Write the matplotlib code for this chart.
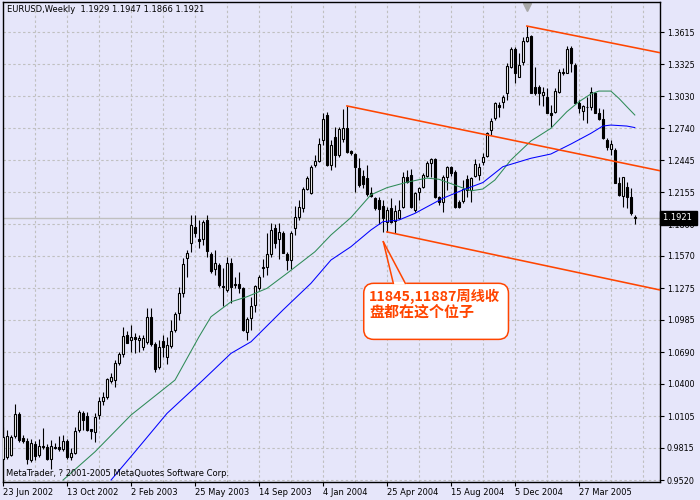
import numpy as np
import matplotlib.pyplot as plt
import matplotlib.transforms as mtransforms
from matplotlib.patches import FancyBboxPatch

# EURUSD weekly bars (bar 0 = week of 23 Jun 2002)
opens = [
    0.9717, 0.9732, 0.9747, 0.9921, 1.0124, 0.9901, 0.9879, 0.9701, 0.9849, 0.9747,
    0.9827, 0.9824, 0.9708, 0.9824, 0.9818, 0.9800, 0.9879, 0.9732, 0.9769, 0.9977,
    1.0130, 1.0106, 0.9983, 0.9961, 1.0114, 1.0245, 1.0276, 1.0428, 1.0435, 1.0587,
    1.0672, 1.0846, 1.0800, 1.0831, 1.0800, 1.0733, 1.0784, 1.1008, 1.0764, 1.0555,
    1.0795, 1.0648, 1.0745, 1.0892, 1.1050, 1.1233, 1.1548, 1.1685, 1.1832, 1.1722,
    1.1721, 1.1895, 1.1588, 1.1447, 1.1491, 1.1295, 1.1257, 1.1503, 1.1314, 1.1314,
    1.1275, 1.0877, 1.0999, 1.1121, 1.1274, 1.1457, 1.1471, 1.1587, 1.1823, 1.1721,
    1.1784, 1.1588, 1.1532, 1.1823, 1.1929, 1.2005, 1.2179, 1.2149, 1.2400, 1.2442,
    1.2630, 1.2860, 1.2403, 1.2662, 1.2494, 1.2638, 1.2738, 1.2531, 1.2503, 1.2372,
    1.2302, 1.2281, 1.2143, 1.2098, 1.2082, 1.2028, 1.1884, 1.2006, 1.1893, 1.1915,
    1.2015, 1.2290, 1.2311, 1.1991, 1.2159, 1.2198, 1.2302, 1.2418, 1.2455, 1.2107,
    1.2067, 1.2290, 1.2381, 1.2342, 1.2067, 1.2076, 1.2272, 1.2174, 1.2302, 1.2311,
    1.2433, 1.2485, 1.2723, 1.2829, 1.2951, 1.2982, 1.3058, 1.3296, 1.3461, 1.3211,
    1.3348, 1.3540, 1.3583, 1.3119, 1.3119, 1.3043, 1.3028, 1.2875, 1.2890, 1.3073,
    1.3256, 1.3247, 1.3470, 1.3317, 1.2967, 1.2899, 1.2936, 1.2930, 1.3064, 1.2875,
    1.2820, 1.2631, 1.2552, 1.2540, 1.2241, 1.2119, 1.2204, 1.2106, 1.1929,
]
highs = [
    1.0008, 0.9978, 0.9932, 1.0216, 1.0143, 0.9932, 0.9901, 0.9892, 0.9879, 0.9892,
    0.9999, 0.9849, 0.9885, 0.9855, 0.9922, 0.9932, 0.9892, 0.9809, 1.0008, 1.0161,
    1.0155, 1.0143, 0.9989, 1.0130, 1.0277, 1.0328, 1.0451, 1.0496, 1.0619, 1.0695,
    1.0924, 1.0886, 1.0939, 1.0868, 1.0846, 1.0846, 1.1091, 1.1091, 1.0786, 1.0801,
    1.0847, 1.0832, 1.0985, 1.1061, 1.1290, 1.1549, 1.1625, 1.1946, 1.1946, 1.1901,
    1.1900, 1.1947, 1.1610, 1.1625, 1.1503, 1.1458, 1.1565, 1.1549, 1.1381, 1.1427,
    1.1284, 1.1016, 1.1199, 1.1305, 1.1397, 1.1540, 1.1779, 1.1870, 1.1863, 1.1869,
    1.1802, 1.1610, 1.1802, 1.2023, 1.2083, 1.2199, 1.2302, 1.2404, 1.2495, 1.2648,
    1.2882, 1.2891, 1.2631, 1.2753, 1.2753, 1.2912, 1.2943, 1.2540, 1.2509, 1.2464,
    1.2357, 1.2403, 1.2204, 1.2113, 1.2107, 1.2082, 1.2021, 1.2098, 1.2037, 1.2082,
    1.2342, 1.2357, 1.2363, 1.2159, 1.2204, 1.2326, 1.2442, 1.2464, 1.2464, 1.2119,
    1.2311, 1.2394, 1.2394, 1.2357, 1.2082, 1.2265, 1.2311, 1.2290, 1.2455, 1.2424,
    1.2516, 1.2707, 1.2829, 1.2982, 1.2982, 1.3043, 1.3339, 1.3479, 1.3485, 1.3424,
    1.3577, 1.3674, 1.3592, 1.3302, 1.3134, 1.3119, 1.3104, 1.2951, 1.3104, 1.3278,
    1.3287, 1.3491, 1.3491, 1.3333, 1.2997, 1.2951, 1.3028, 1.3119, 1.3073, 1.2921,
    1.2912, 1.2646, 1.2631, 1.2555, 1.2296, 1.2296, 1.2250, 1.2189, 1.1947,
]
lows = [
    0.9701, 0.9717, 0.9738, 0.9909, 0.9869, 0.9861, 0.9671, 0.9686, 0.9701, 0.9732,
    0.9800, 0.9701, 0.9625, 0.9800, 0.9787, 0.9787, 0.9708, 0.9701, 0.9757, 0.9961,
    0.9977, 0.9967, 0.9891, 0.9869, 1.0083, 1.0205, 1.0257, 1.0410, 1.0373, 1.0572,
    1.0648, 1.0770, 1.0693, 1.0684, 1.0693, 1.0714, 1.0769, 1.0750, 1.0509, 1.0540,
    1.0648, 1.0586, 1.0724, 1.0876, 1.0983, 1.1196, 1.1379, 1.1608, 1.1746, 1.1640,
    1.1669, 1.1563, 1.1410, 1.1395, 1.1282, 1.1111, 1.1242, 1.1141, 1.1274, 1.1228,
    1.0884, 1.0800, 1.0892, 1.1060, 1.1258, 1.1380, 1.1395, 1.1563, 1.1639, 1.1546,
    1.1593, 1.1441, 1.1455, 1.1761, 1.1899, 1.1975, 1.2173, 1.2136, 1.2387, 1.2432,
    1.2584, 1.2394, 1.2357, 1.2387, 1.2479, 1.2616, 1.2509, 1.2494, 1.2159, 1.2204,
    1.2189, 1.2119, 1.2113, 1.1991, 1.1863, 1.1793, 1.1793, 1.1869, 1.1777, 1.1906,
    1.2006, 1.2235, 1.2006, 1.1976, 1.2082, 1.2189, 1.2290, 1.2290, 1.2098, 1.2037,
    1.1976, 1.2174, 1.2302, 1.2006, 1.2006, 1.2052, 1.2113, 1.2067, 1.2290, 1.2265,
    1.2403, 1.2479, 1.2677, 1.2814, 1.2845, 1.2921, 1.2997, 1.3287, 1.3149, 1.3204,
    1.3317, 1.3531, 1.3058, 1.3043, 1.2951, 1.2942, 1.2875, 1.2753, 1.2881, 1.3058,
    1.3226, 1.3241, 1.3256, 1.2967, 1.2875, 1.2814, 1.2784, 1.2906, 1.2875, 1.2814,
    1.2637, 1.2540, 1.2494, 1.2235, 1.2119, 1.2021, 1.2006, 1.1945, 1.1866,
]
closes = [
    0.9916, 0.9922, 0.9910, 1.0124, 0.9884, 0.9879, 0.9717, 0.9861, 0.9738, 0.9830,
    0.9818, 0.9717, 0.9830, 0.9812, 0.9800, 0.9879, 0.9732, 0.9763, 0.9972, 1.0140,
    1.0069, 0.9977, 0.9971, 1.0100, 1.0240, 1.0276, 1.0442, 1.0465, 1.0588, 1.0673,
    1.0838, 1.0776, 1.0825, 1.0806, 1.0816, 1.0816, 1.1008, 1.0762, 1.0540, 1.0740,
    1.0740, 1.0755, 1.0886, 1.1039, 1.1235, 1.1497, 1.1601, 1.1851, 1.1783, 1.1710,
    1.1881, 1.1618, 1.1435, 1.1502, 1.1300, 1.1283, 1.1509, 1.1282, 1.1304, 1.1274,
    1.0891, 1.0997, 1.1113, 1.1296, 1.1375, 1.1472, 1.1588, 1.1809, 1.1691, 1.1789,
    1.1600, 1.1533, 1.1784, 1.1930, 1.2015, 1.2180, 1.2281, 1.2382, 1.2440, 1.2595,
    1.2821, 1.2403, 1.2586, 1.2494, 1.2729, 1.2738, 1.2525, 1.2509, 1.2381, 1.2220,
    1.2229, 1.2137, 1.2119, 1.2006, 1.2000, 1.1915, 1.1991, 1.1884, 1.1985, 1.1991,
    1.2290, 1.2250, 1.2015, 1.2143, 1.2189, 1.2311, 1.2424, 1.2455, 1.2107, 1.2067,
    1.2290, 1.2381, 1.2333, 1.2021, 1.2021, 1.2180, 1.2174, 1.2281, 1.2412, 1.2381,
    1.2479, 1.2692, 1.2808, 1.2973, 1.2930, 1.3028, 1.3308, 1.3461, 1.3241, 1.3317,
    1.3540, 1.3570, 1.3064, 1.3064, 1.3058, 1.3073, 1.2881, 1.2860, 1.3082, 1.3256,
    1.3247, 1.3461, 1.3339, 1.2973, 1.2921, 1.2942, 1.2930, 1.3073, 1.2881, 1.2820,
    1.2646, 1.2570, 1.2594, 1.2241, 1.2128, 1.2289, 1.2113, 1.1966, 1.1921,
]

# moving averages (bar index, price)
green_bar = [15, 23, 32, 43, 49, 52, 57, 61, 66, 71, 78, 82, 87, 92, 96, 101, 106,
             109, 112, 117, 120, 123, 127, 132, 137, 141, 144, 147, 149, 152, 154, 156, 158]
green_val = [0.9520, 0.9779, 1.0115, 1.0435, 1.0831, 1.1014, 1.1151, 1.1197, 1.1274,
             1.1411, 1.1609, 1.1762, 1.1922, 1.2130, 1.2195, 1.2245, 1.2283, 1.2272,
             1.2232, 1.2166, 1.2183, 1.2265, 1.2448, 1.2622, 1.2738, 1.2890, 1.2981,
             1.3052, 1.3079, 1.3079, 1.3013, 1.2936, 1.2860]
blue_bar = [27, 33, 41, 50, 57, 62, 70, 77, 82, 87, 92, 95, 99, 103, 110, 115, 120,
            125, 132, 137, 142, 147, 150, 152, 156, 158]
blue_val = [0.9520, 0.9779, 1.0130, 1.0435, 1.0679, 1.0785, 1.1076, 1.1320, 1.1533,
            1.1655, 1.1808, 1.1884, 1.1899, 1.1960, 1.2098, 1.2174, 1.2242, 1.2387,
            1.2464, 1.2503, 1.2594, 1.2692, 1.2759, 1.2768, 1.2759, 1.2745]

# equidistant channel lines: (start bar, start price, end bar, end price)
channel = [
    (131, 1.3674, 164.3, 1.3430),
    (86, 1.2943, 164.3, 1.2350),
    (96, 1.1790, 164.3, 1.1259),
]

date_ticks = [0, 16, 32, 48, 64, 80, 96, 112, 128, 144]
date_labels = ["23 Jun 2002", "13 Oct 2002", "2 Feb 2003", "25 May 2003", "14 Sep 2003",
               "4 Jan 2004", "25 Apr 2004", "15 Aug 2004", "5 Dec 2004", "27 Mar 2005"]
price_ticks = [0.9520, 0.9815, 1.0105, 1.0400, 1.0690, 1.0985, 1.1275, 1.1570,
               1.1860, 1.2155, 1.2445, 1.2740, 1.3030, 1.3325, 1.3615]

bg = '#E6E6FA'
grid_col = '#C0C0C0'
orange = '#FF4500'

o = np.array(opens)
h = np.array(highs)
l = np.array(lows)
c = np.array(closes)
bars = np.arange(len(c))
up = c >= o

fig = plt.figure(figsize=(7, 5), dpi=100, facecolor=bg)
ax = fig.add_axes([2.7 / 700, 18 / 500, 657.3 / 700, 480 / 500])
ax.set_facecolor(bg)
ax.set_xlim(-0.1, 164.3)
ax.set_ylim(0.9502, 1.3894)

# dashed grid
for k in range(8, 165, 8):
    ax.axvline(k, color=grid_col, lw=0.8, ls=(0, (2.2, 2.2)), zorder=0)
for v in price_ticks:
    ax.axhline(v, color=grid_col, lw=0.8, ls=(0, (2.2, 2.2)), zorder=0)

# last price line
ax.axhline(c[-1], color=grid_col, lw=1, zorder=1)

# candles
ax.vlines(bars, l, h, color='black', lw=0.8, zorder=2)
ax.bar(bars[up], c[up] - o[up], bottom=o[up], width=0.5,
       facecolor='white', edgecolor='black', lw=0.8, zorder=3)
ax.bar(bars[~up], o[~up] - c[~up], bottom=c[~up], width=0.5,
       facecolor='black', edgecolor='black', lw=0.8, zorder=3)

# moving averages
ax.plot(green_bar, green_val, color='#2E8B57', lw=0.75, zorder=4)
ax.plot(blue_bar, blue_val, color='#0000FF', lw=0.75, zorder=4)

# channel
for x0, y0, x1, y1 in channel:
    ax.plot([x0, x1], [y0, y1], color=orange, lw=1.15, zorder=5)

# axes and ticks
for s in ax.spines.values():
    s.set_color('black')
    s.set_linewidth(1)
ax.yaxis.tick_right()
ax.set_yticks(price_ticks)
ax.set_yticklabels([f"{v:.4f}" for v in price_ticks])
ax.tick_params(axis='y', direction='out', length=3, width=0.8, pad=2, labelsize=5.8)
ax.set_xticks(date_ticks)
ax.set_xticklabels(date_labels, ha='left')
ax.tick_params(axis='x', direction='out', length=3, width=0.8, pad=1.5, labelsize=6)

# marker at top over the highest bar
top = mtransforms.blended_transform_factory(ax.transData, ax.transAxes)
ax.plot([131], [0.99], marker='v', ms=6, color='#A8A8A8', transform=top, clip_on=False)

# last price label on the price scale
side = mtransforms.blended_transform_factory(ax.transAxes, ax.transData)
ax.text(1.004, c[-1], f"{c[-1]:.4f} ", transform=side, ha='left', va='center',
        fontsize=6, color='white',
        bbox=dict(boxstyle='square,pad=0.3', facecolor='black', edgecolor='black'))

# header and footer
fig.text(7 / 700, 1 - 10 / 500, "EURUSD,Weekly  1.1929 1.1947 1.1866 1.1921",
         fontsize=6, va='center', ha='left')
fig.text(6 / 700, 1 - 474 / 500, "MetaTrader, ? 2001-2005 MetaQuotes Software Corp.",
         fontsize=6, va='center', ha='left')

# callout
x_span = 164.4 / 657.3
y_span = (1.3894 - 0.9502) / 480
box = FancyBboxPatch((90.2, 1.0807), 36.2, 0.0513,
                     boxstyle="round,pad=0,rounding_size=2.5",
                     mutation_aspect=y_span / x_span,
                     facecolor='white', edgecolor=orange, lw=1.1, zorder=6)
ax.add_patch(box)
tip = (95.1, 1.1700)
base = [97.6, 100.6]
ax.plot([base[0] + 0.2, base[1] - 0.2], [1.1320, 1.1320], color='white', lw=1.6, zorder=7)
for bx in base:
    ax.plot([tip[0], bx], [tip[1], 1.1320], color=orange, lw=1.1, zorder=7)
cjk = ['Noto Sans CJK SC', 'DejaVu Sans']
ax.text(91.6, 1.1197, "11845,11887周线收", family=cjk, fontsize=10.3, fontweight='bold',
        color=orange, ha='left', va='center', zorder=8)
ax.text(91.6, 1.1060, "盘都在这个位子", family=cjk, fontsize=10.8, fontweight='bold',
        color=orange, ha='left', va='center', zorder=8)

fig.savefig("out.png", dpi=100, facecolor=bg)
